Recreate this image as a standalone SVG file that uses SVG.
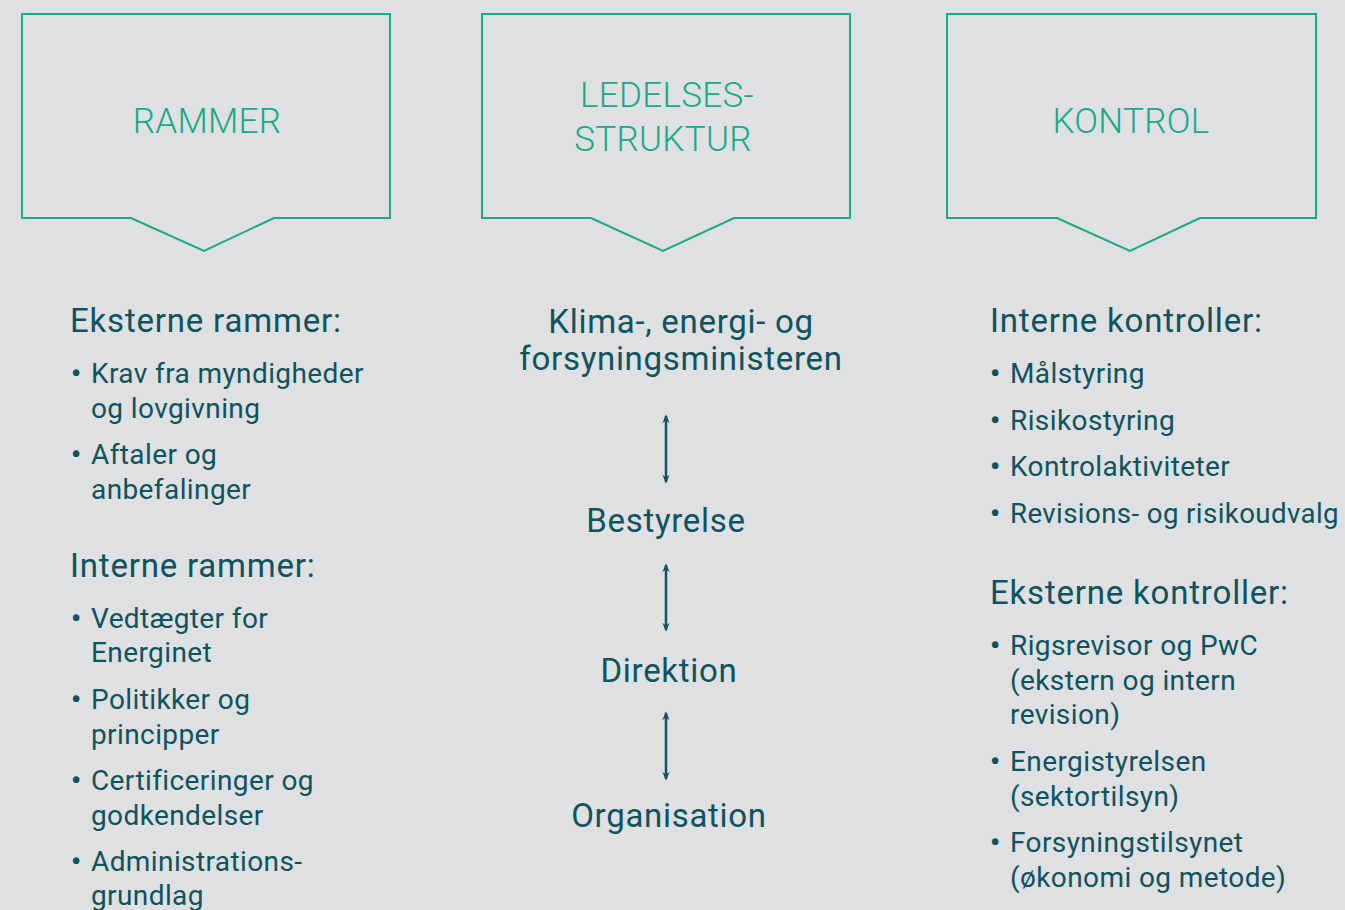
<svg xmlns="http://www.w3.org/2000/svg" width="1345" height="910" viewBox="0 0 1345 910">
<defs>
<style>
.box{fill:none;stroke:#17a98a;stroke-width:2}
.hd{font-family:Roboto,"Liberation Sans",sans-serif;font-weight:300;font-size:35px;fill:#17a98a;text-anchor:middle;letter-spacing:0.3px}
.h{font-family:Roboto,"Liberation Sans",sans-serif;font-size:33px;fill:#0e535e;letter-spacing:0.8px}
.t{font-family:Roboto,"Liberation Sans",sans-serif;font-size:28px;fill:#0e535e;letter-spacing:0.4px}
.b{font-family:Roboto,"Liberation Sans",sans-serif;font-size:28px;font-weight:700;fill:#0e535e}
.c{font-family:Roboto,"Liberation Sans",sans-serif;font-size:33px;fill:#0e535e;text-anchor:middle;letter-spacing:0.7px}
.arr{stroke:#0e535e;stroke-width:2.5;fill:none;marker-start:url(#a);marker-end:url(#a)}
</style>
<marker id="a" viewBox="0 0 10 10" refX="8" refY="5" markerWidth="9" markerHeight="10" orient="auto-start-reverse" markerUnits="userSpaceOnUse">
<path d="M0,1 L10,5 L0,9 L3,5 Z" fill="#0e535e"/>
</marker>
</defs>
<rect width="1345" height="910" fill="#dfe0e2"/>
<g id="rammer">
<path class="box" d="M22,14 H390 V218 H274 L204,251 L131,218 H22 Z"/>
<text class="hd" x="207" y="133">RAMMER</text>
</g>
<g id="ledelse">
<path class="box" d="M482,14 H850 V218 H734 L663,251 L591,218 H482 Z"/>
<text class="hd" x="667" y="107">LEDELSES-</text>
<text class="hd" x="663" y="151">STRUKTUR</text>
</g>
<g id="kontrol">
<path class="box" d="M947,14 H1316 V218 H1200 L1130,251 L1057,218 H947 Z"/>
<text class="hd" x="1131" y="133">KONTROL</text>
</g>
<g id="rammer-list">
<text class="h" x="70" y="332">Eksterne rammer:</text>
<text class="b" x="71" y="383">•</text><text class="t" x="91" y="383">Krav fra myndigheder</text>
<text class="t" x="91" y="418">og lovgivning</text>
<text class="b" x="71" y="464">•</text><text class="t" x="91" y="464">Aftaler og</text>
<text class="t" x="91" y="499">anbefalinger</text>
<text class="h" x="70" y="577">Interne rammer:</text>
<text class="b" x="71" y="628">•</text><text class="t" x="91" y="628">Vedtægter for</text>
<text class="t" x="91" y="662">Energinet</text>
<text class="b" x="71" y="709">•</text><text class="t" x="91" y="709">Politikker og</text>
<text class="t" x="91" y="744">principper</text>
<text class="b" x="71" y="790">•</text><text class="t" x="91" y="790">Certificeringer og</text>
<text class="t" x="91" y="825">godkendelser</text>
<text class="b" x="71" y="871">•</text><text class="t" x="91" y="871">Administrations-</text>
<text class="t" x="91" y="905">grundlag</text>
</g>
<g id="ministeren"><text class="c" x="681" y="333">Klima-, energi- og</text><text class="c" x="681" y="370">forsyningsministeren</text></g>
<g id="bestyrelse"><text class="c" x="666" y="532">Bestyrelse</text></g>
<g id="direktion"><text class="c" x="669" y="682">Direktion</text></g>
<g id="organisation"><text class="c" x="669" y="827">Organisation</text></g>
<g id="connectors">
<line class="arr" x1="666" y1="416" x2="666" y2="482"/>
<line class="arr" x1="666" y1="565" x2="666" y2="630"/>
<line class="arr" x1="666" y1="713" x2="666" y2="779"/>
</g>
<g id="kontrol-list">
<text class="h" x="990" y="332">Interne kontroller:</text>
<text class="b" x="990" y="383">•</text><text class="t" x="1010" y="383">Målstyring</text>
<text class="b" x="990" y="430">•</text><text class="t" x="1010" y="430">Risikostyring</text>
<text class="b" x="990" y="476">•</text><text class="t" x="1010" y="476">Kontrolaktiviteter</text>
<text class="b" x="990" y="523">•</text><text class="t" x="1010" y="523" textLength="329" lengthAdjust="spacingAndGlyphs">Revisions- og risikoudvalg</text>
<text class="h" x="990" y="604">Eksterne kontroller:</text>
<text class="b" x="990" y="655">•</text><text class="t" x="1010" y="655">Rigsrevisor og PwC</text>
<text class="t" x="1010" y="690">(ekstern og intern</text>
<text class="t" x="1010" y="724">revision)</text>
<text class="b" x="990" y="771">•</text><text class="t" x="1010" y="771">Energistyrelsen</text>
<text class="t" x="1010" y="806">(sektortilsyn)</text>
<text class="b" x="990" y="852">•</text><text class="t" x="1010" y="852">Forsyningstilsynet</text>
<text class="t" x="1010" y="887">(økonomi og metode)</text>
</g>
</svg>
